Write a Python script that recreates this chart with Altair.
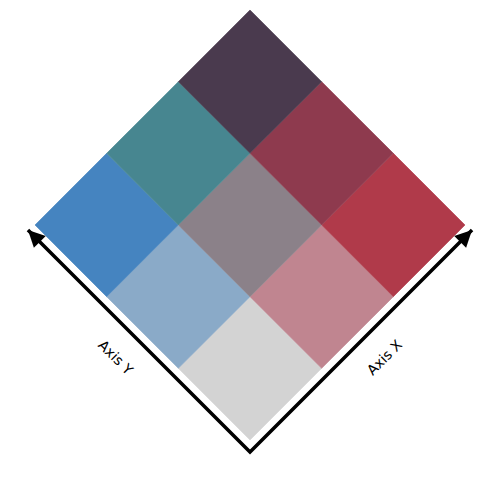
import altair as alt
import pandas as pd

# Bivariate legend: 3x3 grid, x class index and y class index
x_class = [0, 1, 2, 0, 1, 2, 0, 1, 2]
y_class = [0, 0, 0, 1, 1, 1, 2, 2, 2]
cell_colors = ["#d3d3d3", "#c08590", "#b03a4a",
               "#8aaac8", "#8b8189", "#8e3a4e",
               "#4584c0", "#478690", "#4a3a4e"]

axis_labels = ["Axis X", "Axis Y"]

cells = pd.DataFrame({
    "xi": x_class, "yi": y_class, "color": cell_colors,
})
cells["u"] = cells["xi"] - cells["yi"]
cells["v"] = cells["xi"] + cells["yi"]

# axis polyline (in rotated grid units): left tip, corner, right tip
axis_u = [-3.098, 0.0, 3.098]
axis_v = [1.93, -1.168, 1.93]
axis_df = pd.DataFrame({"u": axis_u, "v": axis_v, "order": [0, 1, 2]})

heads = pd.DataFrame({"u": [-3.098, 3.098], "v": [1.93, 1.93], "ang": [315, 45]})

labels = pd.DataFrame({
    "u": [1.884, -1.884], "v": [0.144, 0.144],
    "text": axis_labels, "ang": [315, 45],
})

xs = alt.Scale(domain=[-3.488, 3.488], nice=False, zero=False)
ys = alt.Scale(domain=[-1.837, 5.139], nice=False, zero=False)
X = lambda: alt.X("u:Q", scale=xs, axis=None)
Y = lambda: alt.Y("v:Q", scale=ys, axis=None)

grid = alt.Chart(cells).mark_point(
    shape="diamond", size=20535, filled=True, opacity=1,
    strokeWidth=0.6,
).encode(
    x=X(), y=Y(),
    fill=alt.Color("color:N", scale=None),
    stroke=alt.Color("color:N", scale=None),
)

axis_line = alt.Chart(axis_df).mark_line(
    color="black", strokeWidth=3.5, strokeJoin="miter"
).encode(x=X(), y=Y(), order="order:Q")

arrow_heads = alt.Chart(heads).mark_point(
    shape="M0,0L0.7,1.4L-0.7,1.4Z", size=576, filled=True,
    color="black", opacity=1,
).encode(x=X(), y=Y(), angle=alt.Angle("ang:Q", scale=None))

text = alt.Chart(labels).mark_text(
    font="DejaVu Sans", fontSize=14, color="black",
    align="center", baseline="middle",
).encode(x=X(), y=Y(), text="text:N", angle=alt.Angle("ang:Q", scale=None))

chart = alt.layer(grid, axis_line, arrow_heads, text).properties(
    width=500, height=500, padding=0, autosize=alt.AutoSizeParams(type="none"),
    background="white",
).configure_view(stroke=None)

chart.save("out.html", embed_options={"renderer": "svg", "actions": False})
